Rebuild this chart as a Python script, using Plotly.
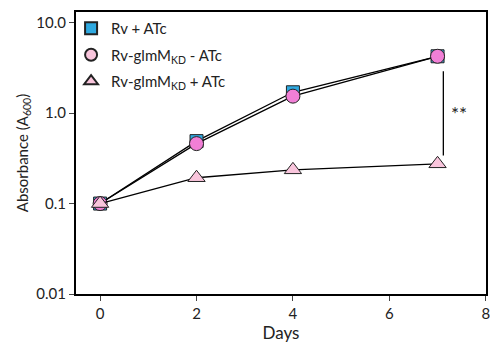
import math
import plotly.graph_objects as go

days = [0, 2, 4, 7]
rv_atc = [0.1, 0.49, 1.70, 4.25]
kd_minus = [0.1, 0.46, 1.54, 4.25]
kd_plus = [0.1, 0.193, 0.236, 0.275]

ytick_vals = [0.01, 0.1, 1, 10]
ytick_text = ["0.01", "0.1", "1.0", "10.0"]
xtick_vals = [0, 2, 4, 6, 8]

FONT = "Lato, 'Open Sans', sans-serif"
BLUE = "#2fa9e0"
MAGENTA = "#f17fd6"
LPINK = "#f9c5dc"

fig = go.Figure()

fig.add_trace(go.Scatter(x=days, y=rv_atc, mode="lines+markers", showlegend=False,
                         line=dict(color="black", width=1.3),
                         marker=dict(symbol="square", size=13, color=BLUE,
                                     line=dict(color="#222", width=1))))
fig.add_trace(go.Scatter(x=days, y=kd_minus, mode="lines+markers", showlegend=False,
                         line=dict(color="black", width=1.3),
                         marker=dict(symbol="circle", size=14, color=MAGENTA,
                                     line=dict(color="#222", width=1))))
fig.add_trace(go.Scatter(x=days, y=kd_plus, mode="lines+markers", showlegend=False,
                         line=dict(color="black", width=1.3),
                         marker=dict(symbol="triangle-up", size=15, color=LPINK,
                                     line=dict(color="#222", width=1))))

# legend entries
fig.add_trace(go.Scatter(x=[None], y=[None], mode="markers", name="Rv + ATc",
                         legendgroup="a",
                         marker=dict(symbol="square", size=14, color=BLUE,
                                     line=dict(color="#222", width=1))))
fig.add_trace(go.Scatter(x=[None], y=[None], mode="markers",
                         name="Rv-glmM<sub>KD</sub> - ATc", legendgroup="b",
                         marker=dict(symbol="circle", size=14, color=LPINK,
                                     line=dict(color="#222", width=1))))
fig.add_trace(go.Scatter(x=[None], y=[None], mode="markers",
                         name="Rv-glmM<sub>KD</sub> + ATc", legendgroup="c",
                         marker=dict(symbol="triangle-up", size=14, color=LPINK,
                                     line=dict(color="#222", width=1))))

# significance bracket
fig.add_shape(type="line", x0=7.12, x1=7.12, y0=0.34, y1=2.9, xref="x", yref="y",
              line=dict(color="black", width=1.3))
fig.add_annotation(x=7.12, y=math.log10(1.0), xref="x", yref="y", text="**",
                   showarrow=False, xanchor="left", xshift=6,
                   font=dict(family=FONT, size=19, color="#222"))

fig.update_layout(
    width=490, height=349,
    margin=dict(l=76, r=4, t=12, b=55, autoexpand=False),
    plot_bgcolor="white", paper_bgcolor="white",
    font=dict(family=FONT, size=15, color="#222"),
    legend=dict(x=-0.012, y=1.0, xanchor="left", yanchor="top",
                bgcolor="rgba(0,0,0,0)", font=dict(size=15, family=FONT),
                itemsizing="constant", tracegroupgap=4),
    xaxis=dict(range=[-0.5, 8.005], tickvals=xtick_vals, ticks="outside", ticklen=5,
               tickwidth=1.3, showgrid=False, zeroline=False, showline=True,
               linecolor="black", linewidth=2, mirror=True,
               tickfont=dict(size=15), ticklabeloverflow="allow",
               title=dict(text="Days", font=dict(size=17), standoff=0)),
    yaxis=dict(type="log", range=[-2, 1.118], tickvals=ytick_vals, ticktext=ytick_text,
               ticks="outside", ticklen=5, tickwidth=1.3, showgrid=False,
               zeroline=False, showline=True, linecolor="black", linewidth=2,
               mirror=True, tickfont=dict(size=15),
               title=dict(text="Absorbance (A<sub>600</sub>)", font=dict(size=15),
                          standoff=4)),
)

fig.write_html(
    "out.html",
    config={"displayModeBar": False},
    post_script="document.body.style.margin='0';document.body.style.overflow='hidden';",
)
